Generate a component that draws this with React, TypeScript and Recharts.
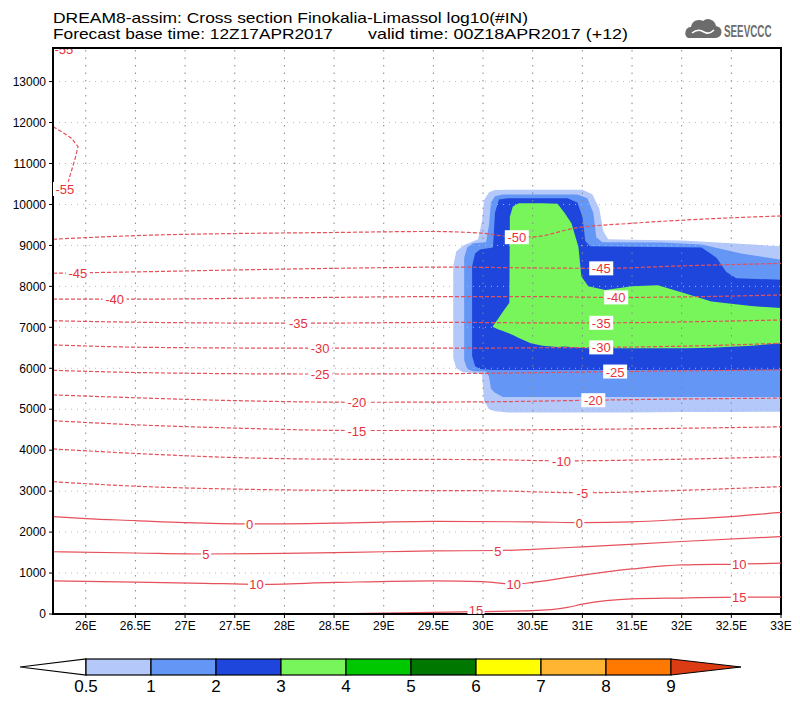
import React from "react";
import {
  ComposedChart, Area, Line, Scatter, XAxis, YAxis, ReferenceLine, ReferenceArea,
} from "recharts";

// ── Axes ───────────────────────────────────────────────────────────────
const LON_MIN = 25.67;
const LON_MAX = 33;
const H_MAX = 13820;
const lonTicks = [26, 26.5, 27, 27.5, 28, 28.5, 29, 29.5, 30, 30.5, 31, 31.5, 32, 32.5, 33];
const hTicks = [0, 1000, 2000, 3000, 4000, 5000, 6000, 7000, 8000, 9000, 10000, 11000, 12000, 13000];

// ── Shaded log10(#IN) bands: [lon, bottom m, top m] ────────────────────
const band05: [number, number, number][] = [
  [29.70, 6250, 8500], [29.73, 6000, 8850], [29.80, 5900, 9000], [29.95, 5880, 9150],
  [29.99, 5850, 9600], [30.01, 5200, 10100], [30.06, 5000, 10300], [30.12, 4950, 10350],
  [30.25, 4920, 10360], [31.00, 4920, 10360], [31.10, 4920, 10250], [31.17, 4920, 9900],
  [31.21, 4920, 9350], [31.26, 4920, 9150], [31.50, 4920, 9140], [32.00, 4930, 9120],
  [32.50, 4930, 9050], [33.00, 4940, 8980],
];
const band1: [number, number, number][] = [
  [29.81, 6200, 8700], [29.84, 5980, 8950], [29.90, 5930, 9050], [30.03, 5920, 9080],
  [30.06, 5800, 9500], [30.08, 5500, 10050], [30.12, 5400, 10200], [30.20, 5300, 10240],
  [30.95, 5300, 10240], [31.05, 5300, 10150], [31.11, 5300, 9800], [31.14, 5300, 9200],
  [31.20, 5300, 9080], [31.80, 5300, 9070], [32.20, 5300, 9020], [32.60, 5300, 8800],
  [33.00, 5300, 8650],
];
const band2: [number, number, number][] = [
  [29.89, 6300, 8500], [29.92, 6050, 8800], [29.97, 5980, 8900], [30.10, 5960, 8950],
  [30.12, 5960, 9800], [30.16, 5960, 10120], [30.25, 5960, 10150], [30.85, 5960, 10150],
  [30.95, 5960, 10050], [31.00, 5960, 9700], [31.03, 5960, 9100], [31.08, 5960, 8980],
  [31.50, 5960, 8970], [32.20, 5960, 8950], [32.35, 5960, 8700], [32.45, 5960, 8350],
  [32.55, 5960, 8200], [33.00, 5970, 8160],
];
const band3: [number, number, number][] = [
  [30.10, 7010, 7030], [30.15, 6950, 7200], [30.20, 6910, 7380], [30.265, 6850, 7600],
  [30.27, 6840, 9700], [30.30, 6810, 9950], [30.36, 6740, 10030], [30.48, 6610, 10030],
  [30.60, 6550, 10030], [30.75, 6520, 10020], [30.82, 6530, 9800], [30.89, 6520, 9540],
  [30.96, 6500, 8970], [30.99, 6500, 8240], [31.06, 6490, 8000], [31.23, 6490, 7910],
  [31.50, 6490, 8000], [31.76, 6490, 8030], [32.03, 6490, 7830], [32.30, 6500, 7630],
  [32.70, 6550, 7520], [33.00, 6610, 7470],
];

// ── Temperature isolines (°C): [lon, height m] ─────────────────────────
const isoM55: [number, number][] = [
  [25.67, 11900], [25.754, 11780], [25.856, 11615], [25.922, 11410], [25.889, 11087],
  [25.838, 10680], [25.821, 10520], [25.80, 10420], [25.72, 10300], [25.67, 10260],
];
const isoM50: [number, number][] = [
  [25.67, 9150], [26.0, 9190], [26.65, 9250], [27.5, 9290], [28.5, 9315], [29.47, 9340],
  [29.98, 9300], [30.34, 9200], [30.52, 9210], [30.92, 9420], [31.5, 9540], [32.2, 9640], [33, 9720],
];
const isoM45: [number, number][] = [
  [25.67, 8320], [26.65, 8360], [27.5, 8400], [28.5, 8440], [29.68, 8470], [30.5, 8450],
  [31.2, 8440], [32, 8500], [33, 8560],
];
const isoM40: [number, number][] = [
  [25.67, 7690], [26.65, 7690], [28, 7720], [29.68, 7750], [30.5, 7750], [31.34, 7730],
  [32.2, 7750], [33, 7790],
];
const isoM35: [number, number][] = [
  [25.67, 7160], [26.65, 7120], [28.14, 7100], [29.68, 7120], [30.5, 7110], [31.2, 7110],
  [32.2, 7140], [33, 7180],
];
const isoM30: [number, number][] = [
  [25.67, 6570], [26.65, 6510], [28.36, 6490], [29.68, 6490], [30.5, 6500], [31.2, 6510],
  [32.2, 6550], [33, 6610],
];
const isoM25: [number, number][] = [
  [25.67, 5950], [26.65, 5890], [28.36, 5860], [29.68, 5870], [30.5, 5890], [31.33, 5920],
  [32.2, 5940], [33, 5960],
];
const isoM20: [number, number][] = [
  [25.67, 5350], [26.5, 5280], [27.5, 5210], [28.73, 5170], [30, 5180], [31.11, 5220],
  [32, 5250], [33, 5270],
];
const isoM15: [number, number][] = [
  [25.67, 4720], [26.5, 4620], [27.5, 4540], [28.73, 4480], [30, 4490], [31.5, 4520], [33, 4570],
];
const isoM10: [number, number][] = [
  [25.67, 4030], [26.5, 3920], [27.5, 3820], [28.5, 3780], [30, 3770], [30.79, 3740],
  [32, 3780], [33, 3840],
];
const isoM5: [number, number][] = [
  [25.67, 3230], [26.5, 3120], [27.5, 3050], [28.5, 3020], [30, 3010], [31, 2960],
  [32, 3020], [33, 3110],
];
const isoP0: [number, number][] = [
  [25.67, 2380], [26, 2330], [26.5, 2280], [27, 2230], [27.65, 2200], [28.5, 2220],
  [29.5, 2260], [30.5, 2250], [31, 2230], [31.5, 2250], [32, 2310], [32.5, 2380], [33, 2480],
];
const isoP5: [number, number][] = [
  [25.67, 1520], [26.5, 1490], [27.2, 1465], [28, 1480], [29, 1520], [29.5, 1540],
  [30.15, 1550], [30.5, 1580], [31, 1640], [32, 1770], [33, 1890],
];
const isoP10: [number, number][] = [
  [25.67, 810], [26.5, 780], [27.2, 750], [27.72, 725], [28.5, 770], [29.5, 810], [30, 790],
  [30.31, 730], [30.5, 770], [31, 950], [31.5, 1100], [32, 1200], [32.58, 1220], [33, 1240],
];
const isoP15: [number, number][] = [
  [28.4, 0], [29, 20], [29.5, 40], [29.93, 60], [30.5, 80], [30.85, 160], [31, 240],
  [31.5, 370], [32, 390], [32.58, 410], [33, 410],
];

// ── Isoline labels: [text, lon, height m] ──────────────────────────────
const isoLabels: [string, number, number][] = [
  ["-55", 25.79, 10380], ["-55", 25.78, 13820],
  ["-50", 30.34, 9200],
  ["-45", 25.92, 8320], ["-45", 31.19, 8440],
  ["-40", 26.29, 7690], ["-40", 31.34, 7730],
  ["-35", 28.14, 7100], ["-35", 31.19, 7110],
  ["-30", 28.36, 6490], ["-30", 31.19, 6510],
  ["-25", 28.36, 5860], ["-25", 31.33, 5920],
  ["-20", 28.73, 5170], ["-20", 31.11, 5220],
  ["-15", 28.73, 4480],
  ["-10", 30.79, 3740],
  ["-5", 31.0, 2960],
  ["0", 27.65, 2200], ["0", 30.97, 2230],
  ["5", 27.21, 1465], ["5", 30.15, 1550],
  ["10", 27.72, 725], ["10", 30.31, 730], ["10", 32.58, 1220],
  ["15", 29.93, 90], ["15", 32.58, 410],
];

// ── Colour bar ─────────────────────────────────────────────────────────
const cbLevels = ["0.5", "1", "2", "3", "4", "5", "6", "7", "8", "9"];
const cbColors = ["#b4c8fa", "#6496f5", "#1e46dc", "#78f55a", "#00c800", "#007800", "#ffff00", "#ffb432", "#ff7800"];
const cbOver = "#dc3c14";

const BAND_COLORS = ["#b4c8fa", "#6496f5", "#1e46dc", "#78f55a"];
const LINE_RED = "#e5505a";
const TEXT_RED = "#e8323c";
const FONT = "'Liberation Sans', Arial, sans-serif";

const toBand = (rows: [number, number, number][]) => rows.map(([lon, lo, hi]) => ({ lon, band: [lo, hi] }));
const toLine = (rows: [number, number][]) => rows.map(([lon, h]) => ({ lon, h }));

const bands = [band05, band1, band2, band3].map((b, i) => ({ data: toBand(b), color: BAND_COLORS[i] }));
const isolines = [
  { data: isoM55, dashed: true, type: "linear" },
  { data: isoM50, dashed: true }, { data: isoM45, dashed: true }, { data: isoM40, dashed: true },
  { data: isoM35, dashed: true }, { data: isoM30, dashed: true }, { data: isoM25, dashed: true },
  { data: isoM20, dashed: true }, { data: isoM15, dashed: true }, { data: isoM10, dashed: true },
  { data: isoM5, dashed: true },
  { data: isoP0, dashed: false }, { data: isoP5, dashed: false }, { data: isoP10, dashed: false },
  { data: isoP15, dashed: false },
];
const labelData = isoLabels.map(([text, lon, h]) => ({ lon, h, text }));

function IsoLabel(props: any) {
  const { cx, cy, payload, index } = props;
  const text: string = payload.text;
  const w = text.length * 7 + 3;
  // label sitting on the top frame: only its lower half shows
  if (payload.h >= H_MAX) {
    const id = `topclip${index}`;
    return (
      <g>
        <clipPath id={id}><rect x={cx - 20} y={cy + 1} width={40} height={12} /></clipPath>
        <text x={cx} y={cy + 6} textAnchor="middle" fontSize={13} fontFamily={FONT} fill={TEXT_RED} clipPath={`url(#${id})`}>{text}</text>
      </g>
    );
  }
  return (
    <g>
      <rect x={cx - w / 2} y={cy - 7} width={w} height={14} fill="#fff" />
      <text x={cx} y={cy + 5} textAnchor="middle" fontSize={13} fontFamily={FONT} fill={TEXT_RED}>{text}</text>
    </g>
  );
}

function ColorBar() {
  const x0 = 86, w = 65, y0 = 659, h = 16;
  const xEnd = x0 + w * cbColors.length;
  return (
    <g>
      <polygon points={`${x0},${y0} ${x0},${y0 + h} 20,${y0 + h / 2}`} fill="#fff" stroke="#000" strokeWidth={1.2} />
      {cbColors.map((c, i) => (
        <rect key={i} x={x0 + i * w} y={y0} width={w} height={h} fill={c} stroke="#000" strokeWidth={1.2} />
      ))}
      <polygon points={`${xEnd},${y0} ${xEnd},${y0 + h} ${xEnd + 70},${y0 + h / 2}`} fill={cbOver} stroke="#000" strokeWidth={1} />
      {cbLevels.map((l, i) => (
        <text key={l} x={x0 + i * w} y={y0 + h + 17} textAnchor="middle" fontSize={17} fontFamily={FONT} fill="#000">{l}</text>
      ))}
    </g>
  );
}

function Header() {
  return (
    <g fontFamily={FONT} fill="#000">
      <text x={53} y={23} fontSize={15} textLength={475} lengthAdjust="spacingAndGlyphs">
        DREAM8-assim: Cross section Finokalia-Limassol log10(#IN)
      </text>
      <text x={53} y={39} fontSize={15} textLength={280} lengthAdjust="spacingAndGlyphs">
        Forecast base time: 12Z17APR2017
      </text>
      <text x={368} y={39} fontSize={15} textLength={260} lengthAdjust="spacingAndGlyphs">
        valid time: 00Z18APR2017 (+12)
      </text>
      {/* SEEVCCC logo */}
      <path d="M688,38 L715,38 A6,6 0 0 0 716,26 A8,8 0 0 0 703,21 A8,8 0 0 0 691,27 A6,6 0 0 0 688,38 Z" fill="#6c6c6c" />
      <path d="M692,33 Q698,28 704,32 Q709,35 714,30" fill="none" stroke="#fff" strokeWidth={1.6} />
      <text transform="translate(724,37) scale(0.82,1.45)" x={0} y={0} fontSize={12} fontWeight="bold" fill="#6c6c6c">SEEVCCC</text>
    </g>
  );
}

export default function App() {
  return (
    <div style={{ position: "relative", width: 800, height: 704, background: "#fff" }}>
      <style>{"body{margin:0}"}</style>
      <ComposedChart width={800} height={640} margin={{ top: 48, right: 19, bottom: 0, left: 0 }}>
        <XAxis
          type="number" dataKey="lon" domain={[LON_MIN, LON_MAX]} allowDataOverflow ticks={lonTicks} interval={0}
          tickFormatter={(v) => `${v}E`} height={26} tickSize={4} tickMargin={3}
          axisLine={{ stroke: "#000", strokeWidth: 2 }} tickLine={{ stroke: "#000" }}
          tick={{ fontSize: 12, fill: "#000", fontFamily: FONT }}
        />
        <YAxis
          type="number" domain={[0, H_MAX]} allowDataOverflow ticks={hTicks} interval={0}
          width={53} tickSize={4} tickMargin={3}
          axisLine={{ stroke: "#000", strokeWidth: 2 }} tickLine={{ stroke: "#000" }}
          tick={{ fontSize: 12, fill: "#000", fontFamily: FONT }}
        />
        {bands.map((b, i) => (
          <Area key={`band${i}`} data={b.data} dataKey="band" type="linear" fill={b.color} fillOpacity={1}
            stroke="none" isAnimationActive={false} activeDot={false} />
        ))}
        {hTicks.slice(1).map((h) => (
          <ReferenceLine key={`gh${h}`} y={h} stroke="#b8b8b8" strokeDasharray="1 5" />
        ))}
        {lonTicks.slice(0, -1).map((lon) => (
          <ReferenceLine key={`gv${lon}`} x={lon} stroke="#888" strokeDasharray="1.5 6" />
        ))}
        {isolines.map((l, i) => (
          <Line key={`iso${i}`} data={toLine(l.data)} dataKey="h" type={(l as any).type ?? "monotone"}
            stroke={LINE_RED} strokeWidth={1.2} strokeDasharray={l.dashed ? "4 2" : undefined}
            dot={false} activeDot={false} isAnimationActive={false} />
        ))}
        <Scatter data={labelData} dataKey="h" shape={IsoLabel} isAnimationActive={false} />
        <ReferenceArea x1={LON_MIN} x2={LON_MAX} y1={0} y2={H_MAX} fill="none" stroke="#000" strokeWidth={2} ifOverflow="visible" />
      </ComposedChart>
      <svg width={800} height={704} style={{ position: "absolute", left: 0, top: 0, pointerEvents: "none" }}>
        <Header />
        <ColorBar />
      </svg>
    </div>
  );
}
